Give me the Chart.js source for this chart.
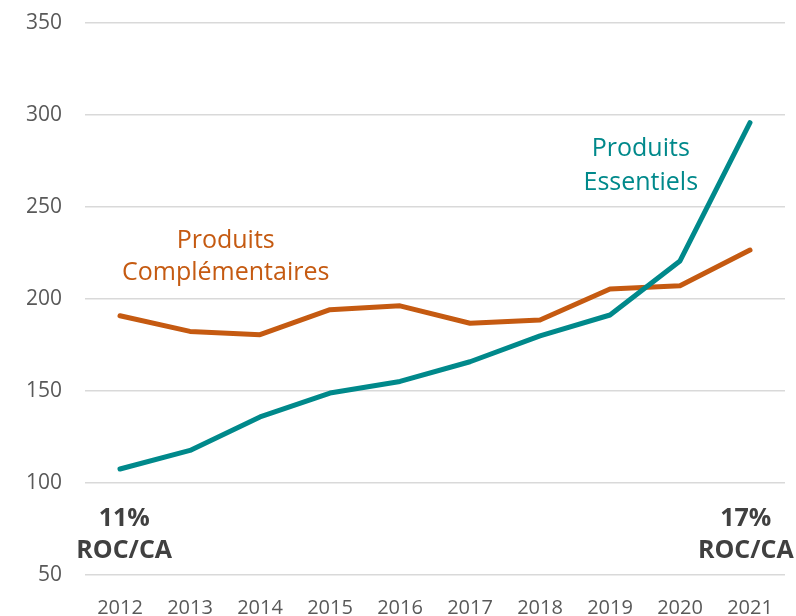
<!DOCTYPE html>
<html>
<head>
<meta charset="utf-8">
<script src="https://cdn.jsdelivr.net/npm/chart.js@4"></script>
<style>
  html, body { margin: 0; padding: 0; background: #fff; }
  #wrap { position: relative; width: 796px; height: 616px; }
</style>
</head>
<body>
<div id="wrap"><canvas id="chart"></canvas></div>
<script>
// Years on the x axis
const years = ["2012", "2013", "2014", "2015", "2016", "2017", "2018", "2019", "2020", "2021"];

const essentiels = [107.6, 117.7, 135.9, 148.9, 155.2, 165.9, 180, 191.3, 220.7, 295.8];
const complementaires = [190.9, 182.4, 180.6, 194.2, 196.3, 186.8, 188.6, 205.4, 207.2, 226.6];

const TEAL = "#00898B";
const ORANGE = "#C55A11";
const FONT = "'Open Sans', sans-serif";

// Text notes placed on the plot (category index, value, lines)
const notes = [
  { x: 1.51, y: 231.5, lines: ["Produits", "Complémentaires"], color: ORANGE, bold: false, size: 25, gap: 32 },
  { x: 7.44, y: 281.5, lines: ["Produits", "Essentiels"], color: TEAL, bold: false, size: 25, gap: 34 },
  { x: 0.06, y: 80.3, lines: ["11%", "ROC/CA"], color: "#404040", bold: true, size: 25, gap: 32 },
  { x: 8.94, y: 80.3, lines: ["17%", "ROC/CA"], color: "#404040", bold: true, size: 25, gap: 32 },
];

const notesPlugin = {
  id: "notes",
  afterDatasetsDraw(chart) {
    const { ctx, scales } = chart;
    ctx.save();
    ctx.textAlign = "center";
    ctx.textBaseline = "middle";
    notes.forEach((n) => {
      const px = scales.x.getPixelForValue(n.x);
      const py = scales.y.getPixelForValue(n.y);
      ctx.fillStyle = n.color;
      ctx.font = `${n.bold ? "bold " : ""}${n.size}px ${FONT}`;
      n.lines.forEach((line, i) => ctx.fillText(line, px, py + i * n.gap));
    });
    ctx.restore();
  },
};

new Chart(document.getElementById("chart"), {
  type: "line",
  data: {
    labels: years,
    datasets: [
      {
        label: "Produits Essentiels",
        data: essentiels,
        borderColor: TEAL,
        borderWidth: 5,
        pointRadius: 0,
        borderCapStyle: "round",
        borderJoinStyle: "round",
      },
      {
        label: "Produits Complémentaires",
        data: complementaires,
        borderColor: ORANGE,
        borderWidth: 5,
        pointRadius: 0,
        borderCapStyle: "round",
        borderJoinStyle: "round",
      },
    ],
  },
  options: {
    responsive: true,
    maintainAspectRatio: false,
    animation: false,
    layout: { padding: { top: 23, right: 11, left: 0, bottom: 0 } },
    plugins: {
      legend: { display: false },
      tooltip: { enabled: false },
    },
    scales: {
      x: {
        offset: true,
        grid: { display: false },
        border: { display: false },
        ticks: { color: "#595959", font: { family: FONT, size: 20 }, padding: 13, maxRotation: 0 },
        afterFit: (s) => { s.height = 41; },
      },
      y: {
        min: 50,
        max: 350,
        ticks: { stepSize: 50, color: "#595959", font: { family: FONT, size: 21 }, padding: 23 },
        grid: { color: "#D9D9D9", lineWidth: 1.5, drawTicks: false },
        border: { display: false },
        afterFit: (s) => {
          s.width = 85;
          s.paddingTop = 0;
          s.paddingBottom = 0;
        },
      },
    },
  },
  plugins: [notesPlugin],
});
</script>
</body>
</html>
